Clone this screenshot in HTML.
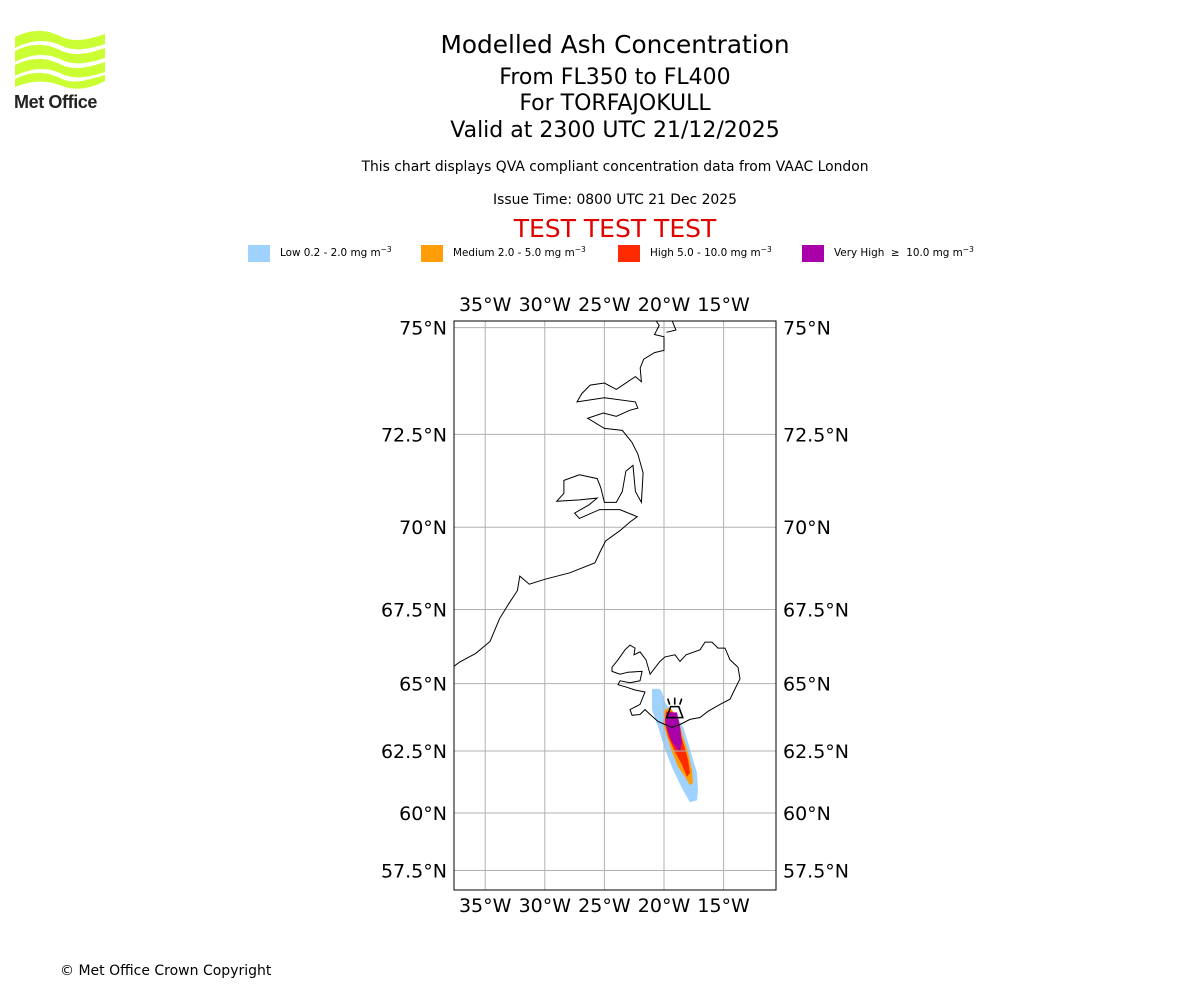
<!DOCTYPE html>
<html><head><meta charset="utf-8"><style>
body{margin:0;background:#fff;width:1200px;height:1000px;overflow:hidden;font-family:"DejaVu Sans","Liberation Sans",sans-serif;}
svg{position:absolute;left:0;top:0}
</style></head><body>
<svg id="chart" width="1200" height="1000" viewBox="0 0 1200 1000">
<g fill="#ccff33">
<path d="M15,37 C35,27 50,31 62,37 C75,43 90,39 105,34 L105,44 C90,49 75,52 62,46 C50,40 35,38 15,48Z"/>
<path d="M15,51 C35,41 50,45 62,51 C75,57 90,53 105,48 L105,58 C90,63 75,66 62,60 C50,54 35,52 15,62Z"/>
<path d="M15,65 C35,55 50,59 62,65 C75,71 90,67 105,62 L105,72 C90,77 75,80 62,74 C50,68 35,66 15,76Z"/>
<path d="M15,79 C35,69 50,73 62,79 C75,85 90,79 105,75 L105,81 C90,89 75,91 62,86 C50,81 35,79 15,87Z"/>
<text x="14" y="108" font-family="Liberation Sans,sans-serif" font-weight="bold" font-size="18" fill="#222" letter-spacing="-0.4">Met Office</text>
</g>
<g text-anchor="middle" fill="#000">
<text x="615" y="53" font-size="24.8">Modelled Ash Concentration</text>
<text x="615" y="84" font-size="22">From FL350 to FL400</text>
<text x="615" y="110" font-size="22">For TORFAJOKULL</text>
<text x="615" y="137" font-size="22">Valid at 2300 UTC 21/12/2025</text>
<text x="615" y="171" font-size="13.9">This chart displays QVA compliant concentration data from VAAC London</text>
<text x="615" y="204" font-size="13.9">Issue Time: 0800 UTC 21 Dec 2025</text>
<text x="615" y="237" font-size="25" fill="#e00000">TEST TEST TEST</text>
</g>
<g font-size="10.4">
<g><rect x="248" y="245" width="22" height="17" fill="#a0d2ff"/><text x="280" y="256">Low 0.2 - 2.0 mg m<tspan dy="-4" font-size="7.5">−3</tspan></text></g>
<g><rect x="421" y="245" width="22" height="17" fill="#ff9e0a"/><text x="453" y="256">Medium 2.0 - 5.0 mg m<tspan dy="-4" font-size="7.5">−3</tspan></text></g>
<g><rect x="618" y="245" width="22" height="17" fill="#ff2a00"/><text x="650" y="256">High 5.0 - 10.0 mg m<tspan dy="-4" font-size="7.5">−3</tspan></text></g>
<g><rect x="802" y="245" width="22" height="17" fill="#aa00aa"/><text x="834" y="256">Very High &#160;≥&#160; 10.0 mg m<tspan dy="-4" font-size="7.5">−3</tspan></text></g>
</g>
<g id="map"></g>
<text x="60" y="975" font-size="14">© Met Office Crown Copyright</text>
</svg>
<script>
const lonTicks=[-35,-30,-25,-20,-15];
const lonLabels=["35°W","30°W","25°W","20°W","15°W"];
const latTicks=[75,72.5,70,67.5,65,62.5,60,57.5];
const latLabels=["75°N","72.5°N","70°N","67.5°N","65°N","62.5°N","60°N","57.5°N"];
const plumeLow=[[-21.01,64.81],[-20.34,64.81],[-20.17,64.70],[-19.92,64.33],[-18.91,63.77],[-18.41,63.43],[-17.99,62.84],[-17.65,62.30],[-17.23,61.64],[-17.15,60.94],[-17.23,60.53],[-17.82,60.45],[-18.41,60.94],[-19.24,61.76],[-19.92,62.57],[-20.50,63.43],[-21.01,64.07]];
const plumeMedium=[[-19.92,64.07],[-19.50,64.14],[-18.83,63.77],[-18.41,63.06],[-17.99,62.46],[-17.65,61.76],[-17.57,61.23],[-17.82,61.15],[-18.24,61.48],[-18.83,61.89],[-19.33,62.46],[-19.75,63.06],[-20.08,63.58]];
const plumeHigh=[[-19.83,63.99],[-19.33,63.99],[-18.83,63.43],[-18.41,62.84],[-17.99,62.17],[-17.82,61.64],[-18.07,61.48],[-18.49,61.97],[-19.08,62.46],[-19.66,63.06],[-19.92,63.58]];
const plumeVeryHigh=[[-19.75,63.96],[-18.91,63.96],[-18.66,63.43],[-18.49,62.84],[-18.66,62.50],[-18.91,62.57],[-19.33,62.84],[-19.75,63.32],[-19.92,63.69]];
const volcano=[-19.1,63.95];
const iceland=[[-24.36,65.57],[-23.86,65.83],[-23.27,66.17],[-22.85,66.33],[-22.43,66.23],[-22.52,66.0],[-22.01,66.1],[-21.51,65.83],[-21.17,65.33],[-20.34,65.77],[-19.92,65.93],[-19.08,66.0],[-18.66,65.77],[-18.15,66.0],[-16.98,66.17],[-16.56,66.43],[-15.97,66.43],[-15.47,66.23],[-14.88,66.23],[-14.46,65.83],[-13.79,65.57],[-13.62,65.17],[-14.04,64.81],[-14.46,64.44],[-15.3,64.25],[-16.31,64.0],[-16.98,63.77],[-17.82,63.7],[-18.66,63.51],[-19.33,63.4],[-19.92,63.51],[-20.5,63.62],[-21.17,63.88],[-21.59,64.06],[-22.01,63.88],[-22.68,63.85],[-22.85,64.06],[-22.01,64.25],[-21.59,64.7],[-22.43,64.77],[-23.27,64.89],[-23.86,64.96],[-23.69,65.1],[-22.85,65.03],[-22.01,65.1],[-21.84,65.43],[-23.02,65.4],[-23.69,65.33],[-24.36,65.43]];
const greenland=[[-37.65,65.6],[-37.15,65.75],[-35.8,66.05],[-34.6,66.45],[-33.8,67.2],[-33.0,67.7],[-32.3,68.1],[-32.1,68.55],[-31.3,68.3],[-30.0,68.45],[-27.9,68.65],[-25.8,68.95],[-25.4,69.25],[-24.9,69.6],[-23.7,69.9],[-22.85,70.15],[-22.25,70.3],[-23.7,70.5],[-25.4,70.5],[-27.1,70.25],[-27.5,70.4],[-26.3,70.63],[-25.6,70.82],[-27.1,70.77],[-29.0,70.73],[-28.4,70.95],[-28.4,71.3],[-27.1,71.45],[-25.6,71.35],[-25.3,71.1],[-25.0,70.7],[-24.0,70.7],[-23.5,71.0],[-23.2,71.55],[-22.6,71.7],[-22.4,71.0],[-21.9,70.7],[-21.75,71.5],[-22.2,72.0],[-22.7,72.3],[-23.5,72.6],[-25.0,72.65],[-26.4,72.9],[-25.1,73.03],[-24.0,72.95],[-22.85,73.1],[-22.2,73.15],[-22.4,73.3],[-25.0,73.4],[-27.3,73.3],[-26.9,73.5],[-26.2,73.7],[-25.0,73.75],[-24.0,73.6],[-22.4,73.9],[-21.9,73.78],[-22.0,74.1],[-21.7,74.3],[-20.8,74.45],[-20.0,74.5],[-20.0,74.8],[-20.8,74.85],[-20.4,75.05],[-21.2,75.35],[-21.2,75.45]];
const greenlandTip=[[-20.0,75.45],[-19.4,75.2],[-19.0,74.95],[-19.8,74.9]];
const X0=454,X1=776,Y0=321,Y1=890;
const pxPerDeg=11.92;
function merc(lat){return Math.log(Math.tan(Math.PI/4+lat*Math.PI/360));}
function xs(lon){return 664+(lon+20)*pxPerDeg;}
function ys(lat){return 813-(merc(lat)-merc(60))*pxPerDeg*180/Math.PI;}
const NS="http://www.w3.org/2000/svg";
const map=document.getElementById('map');
function mk(tag,attrs,parent){const e=document.createElementNS(NS,tag);for(const k in attrs)e.setAttribute(k,attrs[k]);(parent||map).appendChild(e);return e;}
const defs=mk('defs',{});
const cp=mk('clipPath',{id:'clip'},defs);
mk('rect',{x:X0,y:Y0,width:X1-X0,height:Y1-Y0},cp);
const clipG=mk('g',{'clip-path':'url(#clip)'});


function pts(a){return a.map(p=>xs(p[0]).toFixed(1)+','+ys(p[1]).toFixed(1)).join(' ');}
const plumes=[[plumeLow,'#a0d2ff','plume-low'],[plumeMedium,'#ff9e0a','plume-medium'],[plumeHigh,'#ff2a00','plume-high'],[plumeVeryHigh,'#aa00aa','plume-very-high']];
plumes.forEach(p=>{const e=mk('polygon',{points:pts(p[0]),fill:p[1]},clipG);

});
lonTicks.forEach((l,i)=>{const e=mk('line',{x1:xs(l),x2:xs(l),y1:Y0,y2:Y1,stroke:'#b0b0b0','stroke-width':1},clipG);

});
latTicks.forEach(l=>{const e=mk('line',{x1:X0,x2:X1,y1:ys(l),y2:ys(l),stroke:'#b0b0b0','stroke-width':1},clipG);

});
const ice=mk('polygon',{points:pts(iceland),fill:'none',stroke:'#000','stroke-width':1},clipG);


const gr=mk('polyline',{points:pts(greenland),fill:'none',stroke:'#000','stroke-width':1},clipG);


const gt=mk('polyline',{points:pts(greenlandTip),fill:'none',stroke:'#000','stroke-width':1},clipG);


const vx=xs(volcano[0]),vy=ys(volcano[1]);
const vg=mk('g',{stroke:'#000','stroke-width':1.6,fill:'none'},clipG);


mk('path',{d:`M${vx-4},${vy-6} L${vx+4},${vy-6} L${vx+8},${vy+5} L${vx-8},${vy+5} Z`},vg);
mk('path',{d:`M${vx-5},${vy-8} L${vx-7},${vy-14} M${vx},${vy-8} L${vx},${vy-15} M${vx+5},${vy-8} L${vx+7},${vy-14}`},vg);
const fr=mk('rect',{x:X0,y:Y0,width:X1-X0,height:Y1-Y0,fill:'none',stroke:'#000','stroke-width':1});


lonTicks.forEach((l,i)=>{
 const t=mk('text',{x:xs(l),y:311,'text-anchor':'middle','font-size':19});t.textContent=lonLabels[i];
 
 
 const b=mk('text',{x:xs(l),y:912,'text-anchor':'middle','font-size':19});b.textContent=lonLabels[i];
 
 
});
latTicks.forEach((l,i)=>{
 const y=ys(l)+7;
 const t=mk('text',{x:447,y:y,'text-anchor':'end','font-size':19});t.textContent=latLabels[i];
 
 
 const r=mk('text',{x:783,y:y,'font-size':19});r.textContent=latLabels[i];
 
 
});
</script>
</body></html>
